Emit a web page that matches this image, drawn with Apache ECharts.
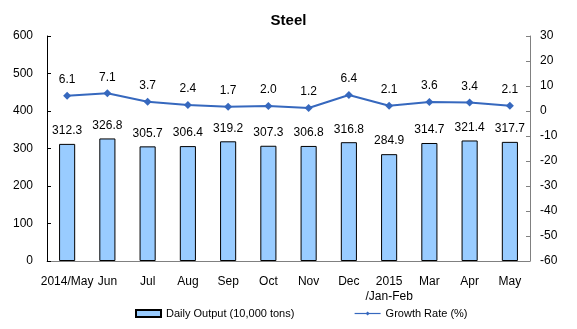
<!DOCTYPE html>
<html>
<head>
<meta charset="utf-8">
<script src="https://cdn.jsdelivr.net/npm/echarts@6/dist/echarts.min.js"></script>
<style>
  html, body { margin: 0; padding: 0; background: #fff; }
  #chart { width: 577px; height: 329px; }
</style>
</head>
<body>
<div id="chart"></div>
<script>
// Monthly steel figures
const months = ['2014/May', 'Jun', 'Jul', 'Aug', 'Sep', 'Oct', 'Nov', 'Dec', '2015\n/Jan-Feb', 'Mar', 'Apr', 'May'];
const dailyOutput = [312.3, 326.8, 305.7, 306.4, 319.2, 307.3, 306.8, 316.8, 284.9, 314.7, 321.4, 317.7];
const growthRate = [6.1, 7.1, 3.7, 2.4, 1.7, 2.0, 1.2, 6.4, 2.1, 3.6, 3.4, 2.1];
const outputName = 'Daily Output (10,000 tons)';
const growthName = 'Growth Rate (%)';

const FONT = '"Liberation Sans", Arial, sans-serif';
const chart = echarts.init(document.getElementById('chart'));

const legendText = { fontFamily: FONT, fontSize: 11, color: '#000' };

chart.setOption({
  animation: false,
  textStyle: { fontFamily: FONT },
  title: {
    text: 'Steel',
    left: 'center',
    top: 8,
    textStyle: { fontFamily: FONT, fontSize: 15, fontWeight: 'bold', color: '#000' }
  },
  legend: [
    {
      bottom: 5,
      left: 130,
      itemWidth: 25,
      itemHeight: 7,
      itemGap: 4,
      textStyle: legendText,
      data: [{ name: outputName, icon: 'rect' }]
    },
    {
      bottom: 5,
      left: 349,
      itemWidth: 26,
      itemHeight: 5,
      itemGap: 4,
      textStyle: legendText,
      lineStyle: { width: 1.2 },
      data: [{ name: growthName }]
    }
  ],
  grid: { left: 47, right: 47, top: 36, bottom: 68, containLabel: false },
  xAxis: {
    type: 'category',
    data: months,
    axisLine: { lineStyle: { color: '#808080', width: 1 } },
    axisTick: { inside: true, length: 4, lineStyle: { color: '#808080' } },
    axisLabel: { color: '#000', fontSize: 12, margin: 13, lineHeight: 15, interval: 0 }
  },
  yAxis: [
    {
      type: 'value',
      min: 0, max: 600, interval: 100,
      axisLine: { show: true, lineStyle: { color: '#000' } },
      axisTick: { show: true, inside: true, length: 4, lineStyle: { color: '#000' } },
      axisLabel: { color: '#000', fontSize: 12, margin: 14 },
      splitLine: { show: false }
    },
    {
      type: 'value',
      min: -60, max: 30, interval: 10,
      axisLine: { show: true, lineStyle: { color: '#808080' } },
      axisTick: { show: true, inside: true, length: 4, lineStyle: { color: '#808080' } },
      axisLabel: { color: '#000', fontSize: 12, margin: 10 },
      splitLine: { show: false }
    }
  ],
  series: [
    {
      name: outputName,
      type: 'bar',
      data: dailyOutput,
      barWidth: '40%',
      itemStyle: { color: '#99CCFF', borderColor: '#000', borderWidth: 1 },
      label: {
        show: true, position: 'top', distance: 7,
        color: '#000', fontSize: 12, fontFamily: FONT,
        formatter: p => p.value.toFixed(1)
      }
    },
    {
      name: growthName,
      type: 'line',
      yAxisIndex: 1,
      data: growthRate,
      symbol: 'diamond',
      symbolSize: 8,
      lineStyle: { color: '#3668BE', width: 2 },
      itemStyle: { color: '#3668BE' },
      label: {
        show: true, position: 'top', distance: 6,
        color: '#000', fontSize: 12, fontFamily: FONT,
        formatter: p => p.value.toFixed(1)
      }
    }
  ]
});
</script>
</body>
</html>
